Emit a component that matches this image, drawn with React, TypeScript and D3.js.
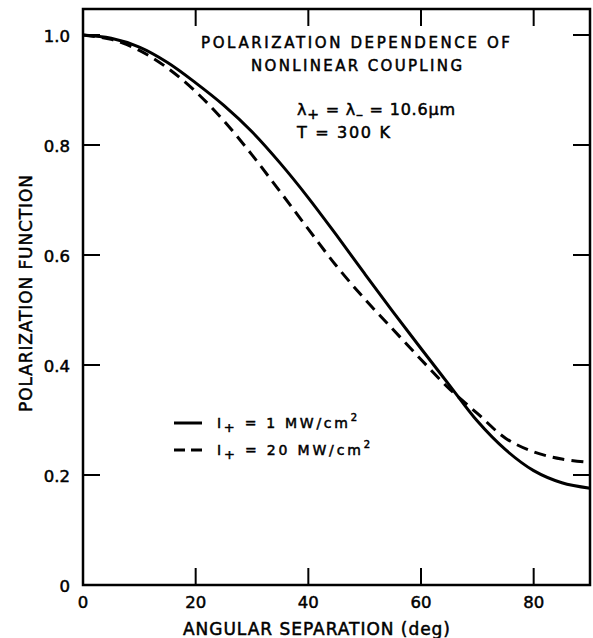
import React from 'react';
import * as d3 from 'd3';

// angle in degrees
const angles = [0, 5, 10, 15, 20, 25, 30, 35, 40, 45, 50, 55, 60, 65, 70, 75, 80, 85, 90];
const lowIntensity = [1.0, 0.994, 0.978, 0.95, 0.913, 0.872, 0.824, 0.767, 0.704, 0.636, 0.566, 0.497, 0.43, 0.364, 0.298, 0.246, 0.208, 0.186, 0.176];
const highIntensity = [1.0, 0.992, 0.972, 0.94, 0.897, 0.844, 0.782, 0.715, 0.647, 0.58, 0.52, 0.465, 0.41, 0.357, 0.312, 0.267, 0.242, 0.229, 0.223];
const xTicks = [0, 20, 40, 60, 80];
const yTicks = [0, 0.2, 0.4, 0.6, 0.8, 1.0];
const yTickLabels = ['0', '0.2', '0.4', '0.6', '0.8', '1.0'];

const W = 593;
const H = 638;
const left = 83;
const right = 590;
const top = 9;
const bottom = 585;
const font = 'DejaVu Sans, sans-serif';

const App = () => {
  const x = d3.scaleLinear().domain([0, 90]).range([left, right]);
  const y = d3.scaleLinear().domain([0, 1]).range([bottom, 35]);

  const line = d3.line<number>()
    .x((d, i) => x(angles[i]))
    .y((d) => y(d))
    .curve(d3.curveCatmullRom);

  const tickLen = 17;
  const ink = { fill: '#000', stroke: '#000', strokeWidth: 0.5 };

  return (
    <svg width={W} height={H} style={{ position: 'absolute', left: 0, top: 0, background: '#fff' }}>
      {/* frame */}
      <rect x={left} y={top} width={right - left} height={bottom - top} fill="none" stroke="#000" strokeWidth={2.5} />

      {/* ticks on all four sides, pointing inward */}
      {xTicks.filter((t) => t > 0).map((t) => (
        <g key={'xt' + t}>
          <line x1={x(t)} x2={x(t)} y1={bottom} y2={bottom - tickLen} stroke="#000" strokeWidth={2} />
          <line x1={x(t)} x2={x(t)} y1={top} y2={top + tickLen} stroke="#000" strokeWidth={2} />
        </g>
      ))}
      {yTicks.filter((t) => t > 0).map((t) => (
        <g key={'yt' + t}>
          <line x1={left} x2={left + tickLen} y1={y(t)} y2={y(t)} stroke="#000" strokeWidth={2} />
          <line x1={right} x2={right - tickLen} y1={y(t)} y2={y(t)} stroke="#000" strokeWidth={2} />
        </g>
      ))}

      {/* tick labels */}
      {xTicks.map((t) => (
        <text key={'xl' + t} x={x(t)} y={608} textAnchor="middle" fontFamily={font} fontSize={16.5} {...ink}>{t}</text>
      ))}
      {yTicks.map((t, i) => (
        <text key={'yl' + t} x={70} y={y(t) + 7} textAnchor="end" fontFamily={font} fontSize={16.5} {...ink}>{yTickLabels[i]}</text>
      ))}

      {/* axis titles */}
      <text x={183} y={635} fontFamily={font} fontSize={17} textLength={267} lengthAdjust="spacing" {...ink}>ANGULAR SEPARATION (deg)</text>
      <text transform="translate(32,412) rotate(-90)" fontFamily={font} fontSize={17} textLength={237} lengthAdjust="spacing" {...ink}>POLARIZATION FUNCTION</text>

      {/* curves */}
      <path d={line(lowIntensity) || ''} fill="none" stroke="#000" strokeWidth={3} />
      <path d={line(highIntensity) || ''} fill="none" stroke="#000" strokeWidth={3} strokeDasharray="12 7" />

      {/* annotations */}
      <text x={201} y={48} fontFamily={font} fontSize={15} textLength={309} lengthAdjust="spacing" {...ink}>POLARIZATION DEPENDENCE OF</text>
      <text x={251} y={71} fontFamily={font} fontSize={15} textLength={211} lengthAdjust="spacing" {...ink}>NONLINEAR COUPLING</text>
      <text x={297} y={115} fontFamily={font} fontSize={16} textLength={158} lengthAdjust="spacing" {...ink}>
        λ<tspan dy={4} fontSize={14}>+</tspan><tspan dy={-4}> = λ</tspan><tspan dy={4} fontSize={14}>–</tspan><tspan dy={-4}> = 10.6μm</tspan>
      </text>
      <text x={297} y={138} fontFamily={font} fontSize={16} textLength={93} lengthAdjust="spacing" {...ink}>T = 300 K</text>

      {/* legend */}
      <line x1={174} x2={202} y1={423} y2={423} stroke="#000" strokeWidth={3} />
      <text x={217} y={428} fontFamily={font} fontSize={14} textLength={140} lengthAdjust="spacing" {...ink}>
        I<tspan dy={4} fontSize={13}>+</tspan><tspan dy={-4}> = 1 MW/cm</tspan><tspan dy={-7} fontSize={10}>2</tspan>
      </text>
      <line x1={174} x2={204} y1={450} y2={450} stroke="#000" strokeWidth={3} strokeDasharray="11 6" />
      <text x={217} y={455} fontFamily={font} fontSize={14} textLength={153} lengthAdjust="spacing" {...ink}>
        I<tspan dy={4} fontSize={13}>+</tspan><tspan dy={-4}> = 20 MW/cm</tspan><tspan dy={-7} fontSize={10}>2</tspan>
      </text>
    </svg>
  );
};

export default App;
